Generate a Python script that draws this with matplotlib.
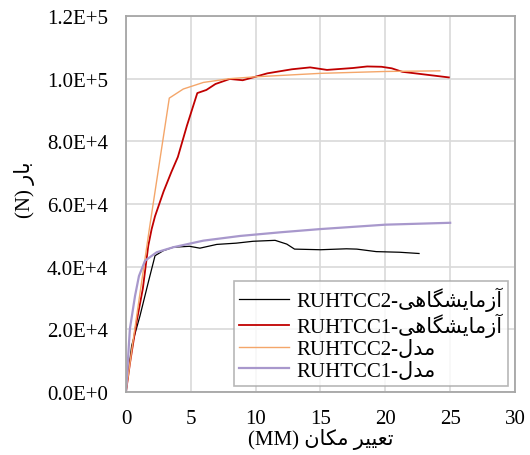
import matplotlib
matplotlib.use("Agg")
import matplotlib.pyplot as plt

# ---- data ----
exp2_x = [0, 0.44, 1.08, 1.72, 2.24, 2.88, 3.65, 4.9, 5.7, 7.0, 8.5, 9.8, 11.5, 12.4, 13.0, 15.0, 17.0, 17.8, 19.3, 21.1, 22.6]
exp2_y = [0, 14800, 24300, 35000, 43500, 45100, 46200, 46500, 45900, 47100, 47500, 48100, 48400, 47200, 45600, 45400, 45700, 45600, 44800, 44600, 44200]

exp1_x = [0, 0.3, 0.8, 1.3, 1.72, 1.98, 2.24, 2.9, 3.5, 4.0, 4.7, 5.5, 6.2, 6.9, 8.0, 9.0, 9.8, 10.9, 12.8, 14.2, 15.5, 17.5, 18.6, 19.7, 20.5, 21.3, 24.9]
exp1_y = [0, 9000, 22000, 33000, 46700, 52000, 56100, 64000, 70200, 75000, 85000, 95400, 96400, 98300, 99900, 99500, 100400, 101700, 103000, 103600, 102800, 103400, 103900, 103800, 103300, 102200, 100400]

mod2_x = [0, 0.5, 1.8, 3.34, 4.42, 5.97, 8.0, 10.0, 15.0, 20.0, 24.2]
mod2_y = [0, 15000, 52000, 93800, 96700, 98800, 100000, 100600, 101700, 102300, 102500]

mod1_x = [0, 0.3, 0.7, 1.0, 1.47, 2.37, 3.65, 5.97, 8.8, 12.0, 15.0, 20.0, 25.0]
mod1_y = [0, 20100, 30700, 37000, 41900, 44600, 46200, 48300, 49800, 51000, 52000, 53400, 54000]

x_ticks = [0, 5, 10, 15, 20, 25, 30]
y_ticks = [0, 20000, 40000, 60000, 80000, 100000, 120000]
y_tick_labels = ["0.0E+0", "2.0E+4", "4.0E+4", "6.0E+4", "8.0E+4", "1.0E+5", "1.2E+5"]

# Arabic/Persian words pre-shaped (presentation forms) in visual (left-to-right) order
lab_word = "\uFEF0\uFEEB\uFE8E\uFB95\uFEB8\uFEF3\uFE8E\uFEE3\uFEAF\uFE81"  # آزمایشگاهی
model_word = "\uFEDD\uFEAA\uFEE3"  # مدل
bar_word = "\uFEAD\uFE8E\uFE91"  # بار
taghyir_word = "\uFEAE\uFEF4\uFEF4\uFECC\uFE97"  # تغییر
makan_word = "\uFEE5\uFE8E\uFB91\uFEE3"  # مکان

series_labels = [
    "RUHTCC2-" + lab_word,
    "RUHTCC1-" + lab_word,
    "RUHTCC2-" + model_word,
    "RUHTCC1-" + model_word,
]
x_label = "(MM) " + makan_word + " " + taghyir_word
y_label = "(N) " + bar_word

fam = ["Liberation Serif", "DejaVu Sans"]
plt.rcParams["font.family"] = fam

fig = plt.figure(figsize=(5.30, 4.56), dpi=100)
ax = fig.add_axes([0.2377, 0.1382, 0.734, 0.8245])

ax.plot(exp2_x, exp2_y, color="#000000", lw=0.9, label=series_labels[0])
ax.plot(exp1_x, exp1_y, color="#c00000", lw=1.3, label=series_labels[1])
ax.plot(mod2_x, mod2_y, color="#f4a66a", lw=1.0, label=series_labels[2])
ax.plot(mod1_x, mod1_y, color="#a898cc", lw=1.6, label=series_labels[3])

ax.set_xlim(0, 30)
ax.set_ylim(0, 120000)
ax.set_xticks(x_ticks)
ax.set_xticklabels([str(v) for v in x_ticks])
ax.set_yticks(y_ticks)
ax.set_yticklabels(y_tick_labels)
ax.tick_params(axis="both", length=0, labelsize=15, colors="black")
ax.tick_params(axis="y", pad=13)
ax.tick_params(axis="x", pad=12)
ax.grid(True, color="#d9d9d9", lw=1.2)
ax.set_axisbelow(True)
for s in ax.spines.values():
    s.set_color("#a6a6a6")
    s.set_linewidth(1.3)

ax.set_xlabel(x_label, fontsize=15, labelpad=0)
ax.text(-0.262, 0.54, y_label, transform=ax.transAxes, rotation=90,
        ha="center", va="center", fontsize=15)

leg = ax.legend(loc="lower right", bbox_to_anchor=(0.982, 0.016), fontsize=15,
                frameon=True, fancybox=False, edgecolor="#a6a6a6",
                handlelength=2.4, handletextpad=0.35, borderpad=0.25,
                labelspacing=0.1, borderaxespad=0)
leg.get_frame().set_linewidth(1.2)

fig.savefig("out.png", dpi=100)
